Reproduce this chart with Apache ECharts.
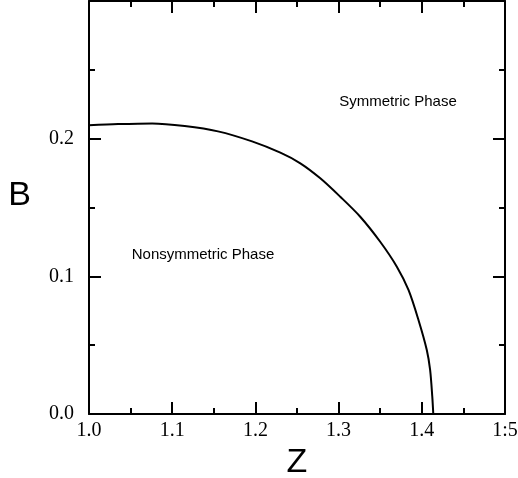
<!DOCTYPE html>
<html>
<head>
<meta charset="utf-8">
<script src="https://cdn.jsdelivr.net/npm/echarts@6/dist/echarts.min.js"></script>
<style>
html,body{margin:0;padding:0;background:#fff;}
#chart{width:518px;height:478px;}
</style>
</head>
<body>
<div id="chart"></div>
<script>
// Phase boundary curve: [Z, B]
const zValues = [1.0, 1.035, 1.076, 1.115, 1.155, 1.196, 1.230, 1.254, 1.278, 1.302, 1.326, 1.350, 1.370, 1.384, 1.396, 1.406, 1.410, 1.4126, 1.4138];
const bValues = [0.2097, 0.2106, 0.2111, 0.2092, 0.2053, 0.1980, 0.1898, 0.1821, 0.1712, 0.1578, 0.1433, 0.1251, 0.1070, 0.0901, 0.0683, 0.0465, 0.0320, 0.0126, 0.0];
const xTickLabels = ['1.0', '1.1', '1.2', '1.3', '1.4', '1:5'];
const yTickLabels = ['0.0', '0.1', '0.2', ''];
const regionLabels = ['Symmetric Phase', 'Nonsymmetric Phase'];
const xName = 'Z';
const yName = 'B';

const curve = zValues.map((z, i) => [z, bValues[i]]);

const chart = echarts.init(document.getElementById('chart'), null, {renderer: 'canvas'});

const frameLine = {show: true, onZero: false, lineStyle: {color: '#000', width: 2}};
const majorTick = {show: true, inside: true, length: 12, lineStyle: {color: '#000', width: 2}};
const minorTick = {show: true, splitNumber: 2, length: 6, lineStyle: {color: '#000', width: 2}};
const serif = '"Liberation Serif", "DejaVu Serif", serif';
const sans = '"Liberation Sans", Arial, sans-serif';

chart.setOption({
  backgroundColor: '#fff',
  animation: false,
  grid: {left: 89, right: 13, top: 1, bottom: 64, containLabel: false, outerBoundsMode: 'none'},
  xAxis: [
    {
      type: 'value', min: 1.0, max: 1.5, interval: 0.1, position: 'bottom',
      axisLine: frameLine, axisTick: majorTick, minorTick: minorTick,
      splitLine: {show: false}, minorSplitLine: {show: false},
      axisLabel: {
        show: true, margin: 7, color: '#000', fontFamily: serif, fontSize: 20,
        formatter: v => xTickLabels[Math.round((v - 1.0) * 10)]
      },
      name: xName, nameLocation: 'middle', nameGap: 32,
      nameTextStyle: {fontFamily: sans, fontSize: 34, color: '#000'}
    },
    {
      type: 'value', min: 1.0, max: 1.5, interval: 0.1, position: 'top',
      axisLine: frameLine, axisTick: majorTick, minorTick: minorTick,
      splitLine: {show: false}, axisLabel: {show: false}
    }
  ],
  yAxis: [
    {
      type: 'value', min: 0, max: 0.3, interval: 0.1, position: 'left',
      axisLine: frameLine, axisTick: majorTick, minorTick: minorTick,
      splitLine: {show: false}, minorSplitLine: {show: false},
      axisLabel: {
        show: true, margin: 15, color: '#000', fontFamily: serif, fontSize: 20,
        formatter: v => yTickLabels[Math.round(v * 10)]
      },
      name: yName, nameLocation: 'middle', nameGap: 58, nameRotate: 0,
      nameTextStyle: {fontFamily: sans, fontSize: 34, color: '#000', verticalAlign: 'bottom', lineHeight: 24}
    },
    {
      type: 'value', min: 0, max: 0.3, interval: 0.1, position: 'right',
      axisLine: frameLine, axisTick: majorTick, minorTick: minorTick,
      splitLine: {show: false}, axisLabel: {show: false}
    }
  ],
  series: [{
    type: 'line',
    data: curve,
    xAxisIndex: 0, yAxisIndex: 0,
    showSymbol: false,
    smooth: 0.3,
    lineStyle: {color: '#000', width: 2}
  }],
  graphic: [
    {type: 'text', x: 398, y: 102, style: {text: regionLabels[0], fill: '#000', font: '15px ' + sans, textAlign: 'center', textVerticalAlign: 'middle'}},
    {type: 'text', x: 203, y: 255, style: {text: regionLabels[1], fill: '#000', font: '15px ' + sans, textAlign: 'center', textVerticalAlign: 'middle'}}
  ]
});
</script>
</body>
</html>
